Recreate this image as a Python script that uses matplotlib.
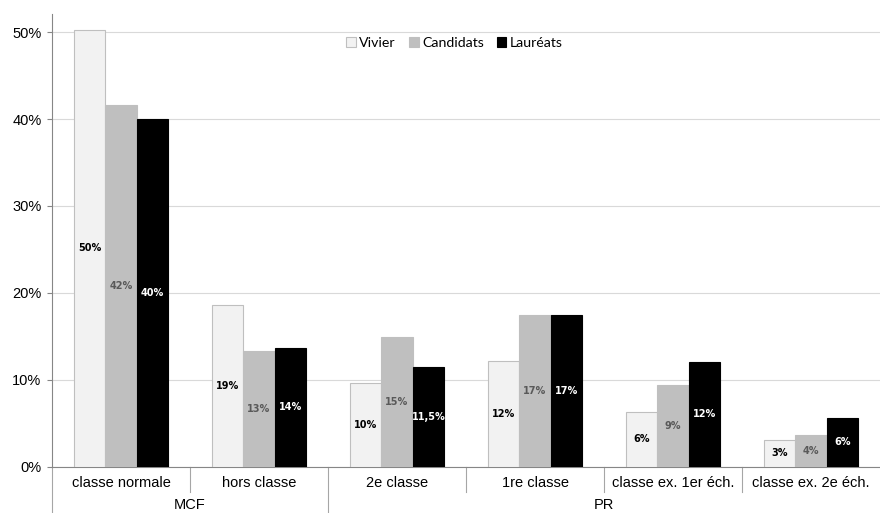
import matplotlib
matplotlib.use("Agg")
import matplotlib.pyplot as plt
import matplotlib.transforms as mtransforms
from matplotlib.ticker import FuncFormatter
import numpy as np

# Grades (first level) and corps (second level)
categories = ["classe normale", "hors classe", "2e classe", "1re classe",
              "classe ex. 1er éch.", "classe ex. 2e éch."]
groups = ["MCF", "PR"]
group_sizes = [2, 4]

series_names = ["Vivier", "Candidats", "Lauréats"]
vivier = [50.3, 18.6, 9.6, 12.1, 6.3, 3.1]
candidats = [41.6, 13.3, 14.9, 17.4, 9.4, 3.6]
laureats = [40.0, 13.7, 11.5, 17.4, 12.0, 5.6]

yticks = [0, 10, 20, 30, 40, 50]

fill_colors = ["#F2F2F2", "#BFBFBF", "#000000"]
edge_colors = ["#BFBFBF", "#BFBFBF", "#000000"]
label_colors = ["#000000", "#595959", "#FFFFFF"]

W, H = 880, 513
fig = plt.figure(figsize=(W / 100, H / 100), dpi=100)
ax = fig.add_axes([52 / W, (H - 466.5) / H, (W - 52) / W, (466.5 - 14) / H])

x = np.arange(len(categories))
bw = 0.227
series = [vivier, candidats, laureats]


def fmt_value(v):
    # half values keep their decimal (French comma), others are rounded
    if abs(v * 2 - round(v * 2)) < 1e-9 and round(v * 2) % 2 == 1:
        return f"{v:.1f}".replace(".", ",") + "%"
    return f"{v:.0f}%"


for k, (vals, name) in enumerate(zip(series, series_names)):
    pos = x + (k - 1) * bw
    ax.bar(pos, vals, width=bw, color=fill_colors[k], edgecolor=edge_colors[k],
           linewidth=0.8, label=name, zorder=3)
    for px, v in zip(pos, vals):
        ax.text(px, v / 2, fmt_value(v), ha="center", va="center",
                fontsize=7, fontweight="bold", color=label_colors[k],
                family="DejaVu Sans", zorder=4)

ax.set_xlim(-0.5, len(categories) - 0.5)
ax.set_ylim(0, 52.1)
ax.set_yticks(yticks)
ax.yaxis.set_major_formatter(FuncFormatter(lambda v, p: f"{v:.0f}%"))
ax.tick_params(axis="y", length=3.5, width=0.8, color="#868686", pad=4,
               labelsize=10.5, labelcolor="#000000")
for lab in ax.get_yticklabels():
    lab.set_family("Liberation Sans")

ax.grid(axis="y", color="#D9D9D9", linewidth=0.8, zorder=0)
ax.set_axisbelow(True)
for s in ["top", "right"]:
    ax.spines[s].set_visible(False)
ax.spines["left"].set_color("#868686")
ax.spines["bottom"].set_color("#868686")
ax.spines["left"].set_linewidth(0.8)
ax.spines["bottom"].set_linewidth(0.8)

# First-level category labels
ax.set_xticks(x)
ax.set_xticklabels(categories, family="Liberation Sans", fontsize=10.5)
ax.tick_params(axis="x", length=0, pad=7)

# Separators of the two-level category axis (none on the right edge)
trans = mtransforms.blended_transform_factory(ax.transData, ax.transAxes)
h_ax = (466.5 - 14)
short = -(492 - 466.5) / h_ax
long_ = -(513 - 466.5) / h_ax
bounds = np.cumsum([0] + group_sizes) - 0.5
for b in np.arange(len(categories)) - 0.5:
    y_end = long_ if np.any(np.isclose(b, bounds)) else short
    ax.plot([b, b], [0, y_end], transform=trans, color="#A6A6A6",
            linewidth=0.8, clip_on=False)

# Second-level group labels
for g, lo, hi in zip(groups, bounds[:-1], bounds[1:]):
    ax.text((lo + hi) / 2, -(505 - 466.5) / h_ax, g, transform=trans,
            ha="center", va="center", fontsize=10.5, family="Liberation Sans")

leg = ax.legend(loc="center", bbox_to_anchor=(0.486, (466.5 - 43) / h_ax), ncol=3,
                frameon=False, prop={"family": "Lato", "size": 10.2},
                handlelength=0.7, handleheight=0.7, handletextpad=0.25,
                columnspacing=0.9, borderaxespad=0, borderpad=0)

fig.savefig("out.png", dpi=100)
